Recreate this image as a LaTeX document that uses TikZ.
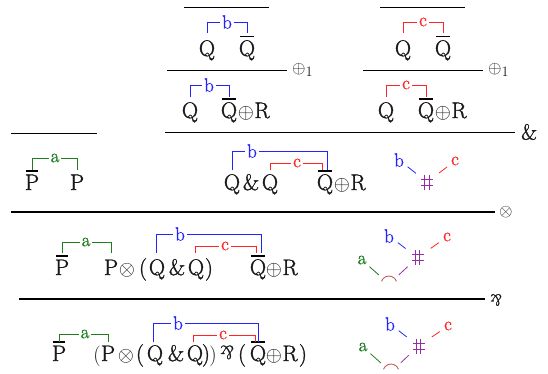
\documentclass[tikz,border=0pt]{standalone}
\usepackage{graphicx}
\usepackage{fontspec}
\newfontfamily\glyf{Latin Modern Roman}[FakeBold=1.3]
\definecolor{cb}{RGB}{35,35,255}
\definecolor{cr}{RGB}{255,35,35}
\definecolor{cg}{RGB}{30,125,30}
\definecolor{cp}{RGB}{150,45,165}
\definecolor{cf}{RGB}{195,95,95}
\definecolor{ink}{RGB}{25,25,25}
\newcommand{\myparr}{\rotatebox[origin=c]{180}{\&}}
\begin{document}
\begin{tikzpicture}[x=1pt,y=-1pt,
  t/.style={anchor=base,inner sep=0pt,outer sep=0pt,text=ink,font=\glyf\fontsize{22.5}{26}\selectfont},
  lab/.style={inner xsep=1.5pt,inner ysep=0.3pt,font=\glyf\fontsize{19}{22}\selectfont},
  brk/.style={line width=1pt},
  bar/.style={line width=0.9pt},
  tbar/.style={line width=2pt},
  rule/.style={line width=0.9pt},
  trule/.style={line width=2pt},
  rlab/.style={anchor=west,inner sep=0pt,text=ink,font=\glyf\fontsize{19}{22}\selectfont},
  gl/.style={inner sep=0pt,font=\glyf\fontsize{19}{22}\selectfont},
  edge/.style={line width=0.8pt},
  hashsym/.pic={\draw[cp,line width=0.8pt] (-2.2,-7.5) -- (-2.2,7.5) (2.2,-7.5) -- (2.2,7.5) (-6,-3) -- (6,-3) (-6,3) -- (6,3);},
  frownsym/.pic={\draw[cf,line width=0.9pt] (200:8) arc[start angle=200,end angle=340,radius=8];},
]
\useasboundingbox (0,0) rectangle (548,373);

% ---------- row 1 ----------
\draw[rule] (184,7) -- (269,7);
\draw[rule] (380,7) -- (465,7);
\node[t] (q11) at (207,56) {Q};
\node[t] (q12) at (247,56) {Q};
\draw[bar] ([xshift=1pt,yshift=3.5pt]q12.north west) -- ([xshift=-1pt,yshift=3.5pt]q12.north east);
\node[lab,text=cb] (b1) at (227,22) {b};
\draw[brk,cb] ([yshift=23pt]q11.base) |- (b1.west);
\draw[brk,cb] (b1.east) -| ([yshift=23pt]q12.base);

\node[t] (q13) at (403,56) {Q};
\node[t] (q14) at (443,56) {Q};
\draw[bar] ([xshift=1pt,yshift=3.5pt]q14.north west) -- ([xshift=-1pt,yshift=3.5pt]q14.north east);
\node[lab,text=cr] (c1) at (423,22) {c};
\draw[brk,cr] ([yshift=23pt]q13.base) |- (c1.west);
\draw[brk,cr] (c1.east) -| ([yshift=23pt]q14.base);

% ---------- row 2 ----------
\coordinate (l2a) at (167,70); \coordinate (l2b) at (287,70);
\draw[rule] (l2a) -- (l2b);
\node[rlab] at ([xshift=5pt]l2b) {$\oplus_1$};
\coordinate (l2c) at (363,70); \coordinate (l2d) at (483,70);
\draw[rule] (l2c) -- (l2d);
\node[rlab] at ([xshift=5pt]l2d) {$\oplus_1$};

\node[t] (q21) at (190,118) {Q};
\node[t] (q22) at (229,118) {Q};
\draw[tbar] ([xshift=1pt,yshift=3.5pt]q22.north west) -- ([xshift=-1pt,yshift=3.5pt]q22.north east);
\node[t] (o21) at (246,118) {$\oplus$};
\node[t] (r21) at (262,118) {R};
\node[lab,text=cb] (b2) at (209,85) {b};
\draw[brk,cb] ([yshift=21pt]q21.base) |- (b2.west);
\draw[brk,cb] (b2.east) -| ([yshift=21pt]q22.base);

\node[t] (q23) at (386,118) {Q};
\node[t] (q24) at (426,118) {Q};
\draw[tbar] ([xshift=1pt,yshift=3.5pt]q24.north west) -- ([xshift=-1pt,yshift=3.5pt]q24.north east);
\node[t] (o23) at (443,118) {$\oplus$};
\node[t] (r23) at (459,118) {R};
\node[lab,text=cr] (c2) at (406,85) {c};
\draw[brk,cr] ([yshift=21pt]q23.base) |- (c2.west);
\draw[brk,cr] (c2.east) -| ([yshift=21pt]q24.base);

% ---------- row 3 ----------
\draw[rule] (11,133) -- (97,133);
\coordinate (l3a) at (165,132); \coordinate (l3b) at (515,132);
\draw[rule] (l3a) -- (l3b);
\node[rlab,font=\glyf\fontsize{22}{26}\selectfont] at ([xshift=6pt]l3b) {\&};

\node[t] (p31) at (32,190) {P};
\node[t] (p32) at (77,190) {P};
\draw[tbar] ([xshift=1pt,yshift=3.5pt]p31.north west) -- ([xshift=-1pt,yshift=3.5pt]p31.north east);
\node[lab,text=cg] (a3) at (55,158) {a};
\draw[brk,cg] ([yshift=20pt]p31.base) |- (a3.west);
\draw[brk,cg] (a3.east) -| ([yshift=20pt]p32.base);

\node[t] (q31) at (232,190) {Q};
\node[t] (m31) at (251,190) {\&};
\node[t] (q32) at (270,190) {Q};
\node[t] (q33) at (325,190) {Q};
\draw[tbar] ([xshift=1pt,yshift=3.5pt]q33.north west) -- ([xshift=-1pt,yshift=3.5pt]q33.north east);
\node[t] (o31) at (342,190) {$\oplus$};
\node[t] (r31) at (358,190) {R};
\node[lab,text=cb] (b3) at (252,151) {b};
\node[lab,text=cr] (c3) at (297,163) {c};
\draw[brk,cb] ([yshift=20pt]q31.base) |- (b3.west);
\draw[brk,cb] (b3.east) -| ([xshift=2.5pt,yshift=20pt]q33.base);
\draw[brk,cr] ([yshift=20pt]q32.base) |- (c3.west);
\draw[brk,cr] (c3.east) -| ([xshift=-2.5pt,yshift=20pt]q33.base);

\node[gl,text=cb] (gb3) at (399,160) {b};
\node[gl,text=cr] (gc3) at (455,161) {c};
\coordinate (h3) at (427,182);
\pic at (h3) {hashsym};
\draw[edge,cb,shorten <=11pt,shorten >=14pt] (gb3.center) -- (h3);
\draw[edge,cr,shorten <=10pt,shorten >=15pt] (gc3.center) -- (h3);

% ---------- row 4 ----------
\coordinate (l4a) at (11,212); \coordinate (l4b) at (495,212);
\draw[trule] (l4a) -- (l4b);
\node[rlab] at ([xshift=4pt]l4b) {$\otimes$};

\node[t] (p41) at (62,275) {P};
\draw[tbar] ([xshift=1pt,yshift=3.5pt]p41.north west) -- ([xshift=-1pt,yshift=3.5pt]p41.north east);
\node[t] (p42) at (111,275) {P};
\node[t] (x41) at (127,275) {$\otimes$};
\node[t] (k41) at (143,275) {(};
\node[t] (q41) at (157,275) {Q};
\node[t] (m41) at (177,275) {\&};
\node[t] (q42) at (196,275) {Q};
\node[t] (k42) at (209,275) {)};
\node[t] (q43) at (258,275) {Q};
\draw[tbar] ([xshift=1pt,yshift=3.5pt]q43.north west) -- ([xshift=-1pt,yshift=3.5pt]q43.north east);
\node[t] (o41) at (274,275) {$\oplus$};
\node[t] (r41) at (290,275) {R};
\node[lab,text=cg] (a4) at (86,242) {a};
\node[lab,text=cb] (b4) at (180,234) {b};
\node[lab,text=cr] (c4) at (225,246) {c};
\draw[brk,cg] ([yshift=22pt]p41.base) |- (a4.west);
\draw[brk,cg] (a4.east) -| ([yshift=22pt]p42.base);
\draw[brk,cb] ([xshift=-1pt,yshift=22pt]q41.base) |- (b4.west);
\draw[brk,cb] (b4.east) -| ([xshift=3.5pt,yshift=22pt]q43.base);
\draw[brk,cr] ([xshift=-1pt,yshift=22pt]q42.base) |- (c4.west);
\draw[brk,cr] (c4.east) -| ([xshift=-1.5pt,yshift=22pt]q43.base);

\node[gl,text=cb] (gb4) at (389,236) {b};
\node[gl,text=cr] (gc4) at (447,237) {c};
\node[gl,text=cg] (ga4) at (362,260) {a};
\coordinate (h4) at (417.5,257.5);
\pic at (h4) {hashsym};
\coordinate (f4) at (389,284);
\pic at (f4) {frownsym};
\draw[edge,cb,shorten <=11pt,shorten >=15pt] (gb4.center) -- (h4);
\draw[edge,cr,shorten <=10pt,shorten >=16pt] (gc4.center) -- (h4);
\draw[edge,cg,shorten <=10pt,shorten >=13.5pt] (ga4.center) -- (f4);
\draw[edge,cp,shorten <=13.5pt,shorten >=13.5pt] (f4) -- (h4);

% ---------- row 5 ----------
\coordinate (l5a) at (19,299); \coordinate (l5b) at (485,299);
\draw[trule] (l5a) -- (l5b);
\node[anchor=west,inner sep=0pt,text=ink,font=\glyf\fontsize{16}{18}\selectfont] at ([xshift=5pt,yshift=-1pt]l5b) {\myparr};

\node[t] (p51) at (59,361) {P};
\draw[tbar] ([xshift=1pt,yshift=3.5pt]p51.north west) -- ([xshift=-1pt,yshift=3.5pt]p51.north east);
\node[t] (k51) at (97,361) {$\bigl($};
\node[t] (p52) at (108,361) {P};
\node[t] (x51) at (126,361) {$\otimes$};
\node[t] (k52) at (140,361) {(};
\node[t] (q51) at (155,361) {Q};
\node[t] (m51) at (176,361) {\&};
\node[t] (q52) at (195,361) {Q};
\node[t] (k53) at (206,361) {)};
\node[t] (k54) at (213,361) {$\bigr)$};
\node[t,font=\glyf\fontsize{19}{22}\selectfont] (z51) at (227,359) {\myparr};
\node[t] (k55) at (242,361) {(};
\node[t] (q53) at (258,361) {Q};
\draw[tbar] ([xshift=1pt,yshift=3.5pt]q53.north west) -- ([xshift=-1pt,yshift=3.5pt]q53.north east);
\node[t] (o51) at (274,361) {$\oplus$};
\node[t] (r51) at (290,361) {R};
\node[t] (k56) at (303,361) {)};
\node[lab,text=cg] (a5) at (85,334) {a};
\node[lab,text=cb] (b5) at (178,323) {b};
\node[lab,text=cr] (c5) at (223,335) {c};
\draw[brk,cg] ([yshift=19pt]p51.base) |- (a5.west);
\draw[brk,cg] (a5.east) -| ([yshift=19pt]p52.base);
\draw[brk,cb] ([xshift=-2pt,yshift=19pt]q51.base) |- (b5.west);
\draw[brk,cb] (b5.east) -| ([yshift=19pt]q53.base);
\draw[brk,cr] ([xshift=-2pt,yshift=19pt]q52.base) |- (c5.west);
\draw[brk,cr] (c5.east) -| ([xshift=-3pt,yshift=19pt]q53.base);

\node[gl,text=cb] (gb5) at (390,324) {b};
\node[gl,text=cr] (gc5) at (448,326) {c};
\node[gl,text=cg] (ga5) at (363,347) {a};
\coordinate (h5) at (418.5,346);
\pic at (h5) {hashsym};
\coordinate (f5) at (391,372);
\pic at (f5) {frownsym};
\draw[edge,cb,shorten <=11pt,shorten >=15pt] (gb5.center) -- (h5);
\draw[edge,cr,shorten <=10pt,shorten >=16pt] (gc5.center) -- (h5);
\draw[edge,cg,shorten <=10pt,shorten >=13.5pt] (ga5.center) -- (f5);
\draw[edge,cp,shorten <=13.5pt,shorten >=13.5pt] (f5) -- (h5);
\end{tikzpicture}
\end{document}
